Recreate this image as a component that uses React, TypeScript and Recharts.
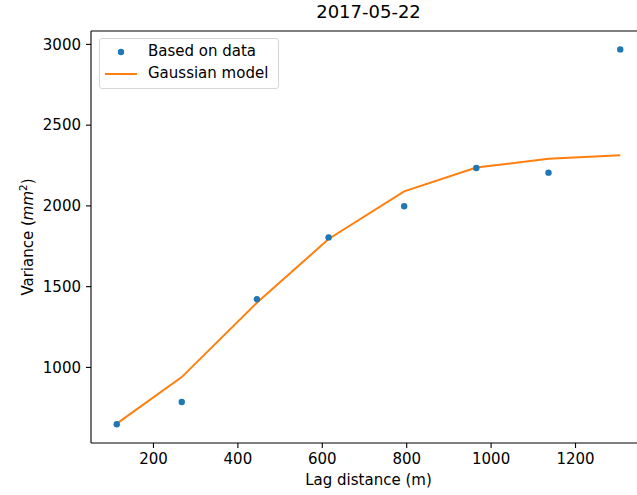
import React from 'react';
import { ComposedChart, Line, Scatter, XAxis, YAxis, Legend, ReferenceLine } from 'recharts';

// lag distance (m) of each bin
const lags = [113, 267, 445, 615, 794, 965, 1136, 1306];
// experimental variogram values
const observed = [648, 786, 1422, 1805, 1998, 2235, 2206, 2969];
// fitted gaussian model at the same lags
const model = [652, 940, 1400, 1795, 2090, 2238, 2292, 2313];

const xTicks = [200, 400, 600, 800, 1000, 1200];
const yTicks = [1000, 1500, 2000, 2500, 3000];
const xDomain = [52, 1367];
const yDomain = [532, 3083];

const rows = lags.map((lag, i) => ({ lag, observed: observed[i], model: model[i] }));

const FONT = "'DejaVu Sans', sans-serif";
const BLUE = '#1f77b4';
const ORANGE = '#ff7f0e';

const LegendBox = () => (
    <div style={{
        width: 180, height: 51, boxSizing: 'border-box', border: '1px solid #d6d6d6',
        borderRadius: 3, background: 'rgba(255,255,255,0.8)', fontFamily: FONT,
        fontSize: 15, color: '#000', position: 'relative', textAlign: 'left',
    }}>
        <svg width={60} height={51} style={{ position: 'absolute', left: 0, top: 0 }}>
            <circle cx={21} cy={13} r={3.2} fill={BLUE} />
            <line x1={5} x2={37} y1={35} y2={35} stroke={ORANGE} strokeWidth={2} />
        </svg>
        <div style={{ position: 'absolute', left: 48, top: 2, lineHeight: '20px', whiteSpace: 'nowrap' }}>Based on data</div>
        <div style={{ position: 'absolute', left: 48, top: 24, lineHeight: '20px', whiteSpace: 'nowrap' }}>Gaussian model</div>
    </div>
);

export default function App() {
    return (
        <div style={{ position: 'absolute', left: 0, top: 0, width: 637, height: 495, overflow: 'hidden', background: '#fff' }}>
            <div style={{
                position: 'absolute', left: 0, width: 737, top: 0, textAlign: 'center',
                fontFamily: FONT, fontSize: 18, lineHeight: '24px', color: '#000',
            }}>
                2017-05-22
            </div>
            <ComposedChart
                width={660}
                height={495}
                data={rows}
                margin={{ top: 31, right: 14, left: 0, bottom: 0 }}
                style={{ position: 'absolute', left: 0, top: 0 }}
            >
                <XAxis
                    dataKey="lag"
                    type="number"
                    domain={xDomain}
                    ticks={xTicks}
                    height={52}
                    tickSize={5}
                    tickMargin={5}
                    axisLine={{ stroke: '#000', strokeWidth: 1.1 }}
                    tickLine={{ stroke: '#000', strokeWidth: 1.1 }}
                    tick={{ fontSize: 15, fill: '#000', fontFamily: FONT }}
                    allowDataOverflow
                    label={(props: any) => {
                        const vb = props.viewBox;
                        return (
                            <text x={vb.x + vb.width / 2} y={485} textAnchor="middle" fontSize={15} fontFamily={FONT} fill="#000">
                                Lag distance (m)
                            </text>
                        );
                    }}
                />
                <YAxis
                    type="number"
                    domain={yDomain}
                    ticks={yTicks}
                    width={91}
                    tickSize={5}
                    tickMargin={5}
                    axisLine={{ stroke: '#000', strokeWidth: 1.1 }}
                    tickLine={{ stroke: '#000', strokeWidth: 1.1 }}
                    tick={{ fontSize: 15, fill: '#000', fontFamily: FONT }}
                    allowDataOverflow
                    label={(props: any) => {
                        const vb = props.viewBox;
                        const cy = vb.y + vb.height / 2;
                        return (
                            <text
                                x={33}
                                y={cy}
                                transform={`rotate(-90, 33, ${cy})`}
                                textAnchor="middle"
                                fontSize={15}
                                fontFamily={FONT}
                                fill="#000"
                            >
                                Variance (<tspan fontStyle="italic">mm</tspan>
                                <tspan dy={-6} fontSize={10.5}>2</tspan>
                                <tspan dy={6}>)</tspan>
                            </text>
                        );
                    }}
                />
                <ReferenceLine y={yDomain[1]} stroke="#000" strokeWidth={1.1} />
                <ReferenceLine x={xDomain[1]} stroke="#000" strokeWidth={1.1} />
                <Line
                    dataKey="model"
                    type="linear"
                    stroke={ORANGE}
                    strokeWidth={2}
                    dot={false}
                    activeDot={false}
                    isAnimationActive={false}
                />
                <Scatter
                    dataKey="observed"
                    fill={BLUE}
                    isAnimationActive={false}
                    shape={(p: any) => <circle cx={p.cx} cy={p.cy} r={3.2} fill={BLUE} />}
                />
                <Legend
                    verticalAlign="middle"
                    align="center"
                    layout="horizontal"
                    content={() => <LegendBox />}
                    wrapperStyle={{ left: 99, top: 38, width: 180, height: 51 }}
                />
            </ComposedChart>
        </div>
    );
}
